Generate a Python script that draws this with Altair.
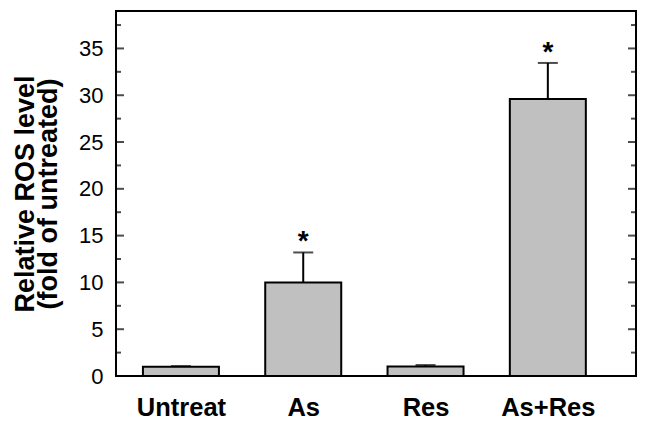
import altair as alt
import pandas as pd

categories = ["Untreat", "As", "Res", "As+Res"]
means = [1.0, 10.0, 1.02, 29.6]
errors = [0.06, 3.2, 0.15, 3.85]
stars = ["", "*", "", "*"]
major_ticks = [0, 5, 10, 15, 20, 25, 30, 35]
minor_ticks = [2.5, 7.5, 12.5, 17.5, 22.5, 27.5, 32.5, 37.5]

df = pd.DataFrame({
    "cat": categories,
    "idx": list(range(len(categories))),
    "mean": means,
    "err": errors,
    "star": stars,
})
df["top"] = df["mean"] + df["err"]

W, H = 520, 365
FONT = "Liberation Sans, Arial"
label_expr = "[" + ",".join('"%s"' % c for c in categories) + "][datum.value]"

xscale = alt.Scale(domain=[-0.49, 3.68], nice=False, zero=False)
yscale = alt.Scale(domain=[0, 39], nice=False)

x_enc = alt.X("idx:Q", scale=xscale, axis=alt.Axis(
    values=[0, 1, 2, 3], labelExpr=label_expr, ticks=False, domain=False, grid=False,
    labelFont=FONT, labelFontSize=25.5, labelFontWeight="bold", labelColor="black",
    labelPadding=19, title=None))
y_enc = alt.Y("mean:Q", scale=yscale, axis=alt.Axis(
    values=major_ticks, ticks=False, domain=False, grid=False,
    labelFont=FONT, labelFontSize=22, labelColor="black", labelPadding=13,
    title=["Relative ROS level", "(fold of untreated)"], titleFont=FONT,
    titleFontSize=27, titleFontWeight="bold", titleColor="black",
    titlePadding=16, titleLineHeight=23))

base = alt.Chart(df)

bars = base.mark_bar(orient="vertical", size=76, fill="#c0c0c0", stroke="black",
                     strokeWidth=2).encode(x=x_enc, y=y_enc)
err_rule = base.mark_rule(color="black", strokeWidth=2).encode(
    x=alt.X("idx:Q", scale=xscale), y=alt.Y("mean:Q", scale=yscale), y2="top:Q")
caps = base.mark_tick(orient="horizontal", size=20, thickness=2, color="black").encode(
    x=alt.X("idx:Q", scale=xscale), y=alt.Y("top:Q", scale=yscale))
star_text = base.mark_text(font=FONT, fontSize=28, fontWeight="bold", dy=-2,
                           baseline="alphabetic", color="black").encode(
    x=alt.X("idx:Q", scale=xscale), y=alt.Y("top:Q", scale=yscale), text="star:N")

tdf_major = pd.DataFrame({"v": major_ticks[1:]})
tdf_minor = pd.DataFrame({"v": minor_ticks})

def tick_layer(d, length, xpos):
    return alt.Chart(d).mark_tick(orient="horizontal", size=length, thickness=2,
                                  color="black").encode(
        x=alt.value(xpos), y=alt.Y("v:Q", scale=yscale))

frame = alt.Chart(df.head(1)).mark_rect(fill=None, stroke="black", strokeWidth=2).encode(
    x=alt.value(0), x2=alt.value(W), y=alt.value(0), y2=alt.value(H))

layers = [bars, err_rule, caps, star_text,
          tick_layer(tdf_major, 8, 4), tick_layer(tdf_minor, 5, 2.5),
          tick_layer(tdf_major, 8, W - 4), tick_layer(tdf_minor, 5, W - 2.5), frame]

chart = alt.layer(*layers).properties(
    width=W, height=H,
    autosize=alt.AutoSizeParams(type="none"),
    padding={"left": 108, "top": 3, "right": 2, "bottom": 55},
).configure_view(stroke=None).configure(background="white")

chart.save("out.html", embed_options={"renderer": "svg", "actions": False})
